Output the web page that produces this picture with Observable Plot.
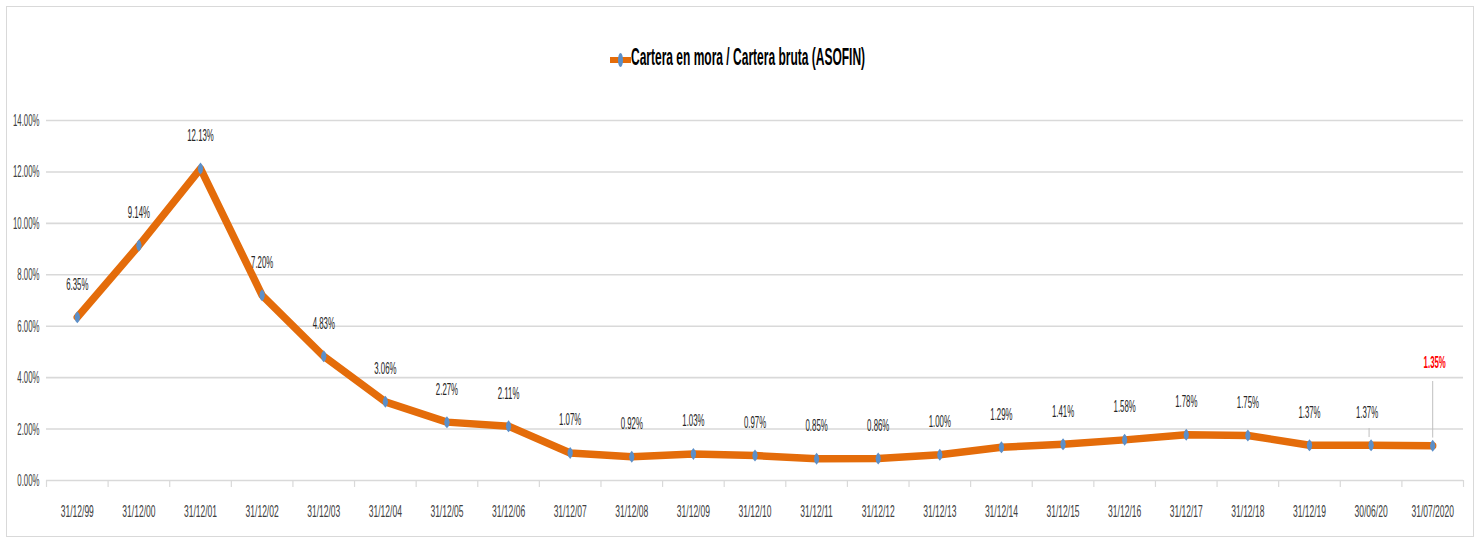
<!DOCTYPE html>
<html>
<head>
<meta charset="utf-8">
<script src="https://cdn.jsdelivr.net/npm/d3@7"></script>
<script src="https://cdn.jsdelivr.net/npm/@observablehq/plot@0.6"></script>
<style>
  html, body { margin: 0; padding: 0; background: #fff; }
  #wrap { position: relative; width: 1483px; height: 543px; overflow: hidden; background: #fff; }
  #frame { position: absolute; left: 6px; top: 6px; width: 1468px; height: 531px; border: 1.5px solid #d9d9d9; box-sizing: border-box; }
  #legend { position: absolute; left: 0; top: 0; width: 1483px; height: 95px; }
  #legend .sym { position: absolute; left: 610px; top: 50px; width: 21px; height: 20px; }
  #legend .sym .ln { position: absolute; left: 0; top: 7px; width: 21px; height: 6px; background: #E46C0A; }
  #legend .sym .mk { position: absolute; left: 7.5px; top: 3px; width: 5px; height: 14px; border-radius: 50%; background: #5B8FC9; }
  #legend .txt { position: absolute; left: 631px; top: 43px; white-space: nowrap; transform-origin: 0 0; transform: scaleX(0.5);
                 font-family: "Liberation Sans", Arial, sans-serif; font-weight: bold; font-size: 24px; color: #000; }
  #chart { position: absolute; left: 0; top: 95px; }
</style>
</head>
<body>
<div id="wrap">
  <div id="frame"></div>
  <div id="legend"><div class="sym"><div class="ln"></div><div class="mk"></div></div><span class="txt" id="title"></span></div>
  <div id="chart"></div>
</div>
<script>
const categories = ["31/12/99","31/12/00","31/12/01","31/12/02","31/12/03","31/12/04","31/12/05","31/12/06","31/12/07","31/12/08","31/12/09","31/12/10","31/12/11","31/12/12","31/12/13","31/12/14","31/12/15","31/12/16","31/12/17","31/12/18","31/12/19","30/06/20","31/07/2020"];
const values = [6.35, 9.14, 12.13, 7.20, 4.83, 3.06, 2.27, 2.11, 1.07, 0.92, 1.03, 0.97, 0.85, 0.86, 1.00, 1.29, 1.41, 1.58, 1.78, 1.75, 1.37, 1.37, 1.35];
const yTicks = [0, 2, 4, 6, 8, 10, 12, 14];
const seriesName = "Cartera en mora / Cartera bruta (ASOFIN)";

document.getElementById("title").textContent = seriesName;

const data = categories.map((c, i) => ({cat: c, v: values[i], i}));
const lastIdx = data.length - 1;

const W = 1483, H = 448;
const mL = 46, mR = 20, mT = 25, mB = 63;
const bw = (W - mL - mR) / categories.length;
const font = "'Liberation Sans', Arial, sans-serif";

const diamond = {
  draw(ctx, size) {
    const w = 2.7, h = 6;
    ctx.moveTo(0, -h);
    ctx.quadraticCurveTo(w, -h * 0.6, w, 0);
    ctx.quadraticCurveTo(w, h * 0.6, 0, h);
    ctx.quadraticCurveTo(-w, h * 0.6, -w, 0);
    ctx.quadraticCurveTo(-w, -h * 0.6, 0, -h);
    ctx.closePath();
  }
};

const fmt = d => d.v.toFixed(2) + "%";

const chart = Plot.plot({
  width: W, height: H,
  marginLeft: mL, marginRight: mR, marginTop: mT, marginBottom: mB,
  style: {fontFamily: font, fontSize: "17px", color: "#404040", background: "transparent"},
  x: {type: "band", domain: categories, padding: 0, round: false, label: null},
  y: {domain: [0, 14], label: null},
  marks: [
    Plot.ruleY(yTicks, {stroke: "#d9d9d9", strokeWidth: 1.6}),
    Plot.ruleX(data, {x: "cat", dx: -bw / 2, y1: 0, y2: -0.27, stroke: "#d9d9d9", strokeWidth: 1.2}),
    Plot.ruleX([data[lastIdx]], {x: "cat", dx: bw / 2, y1: 0, y2: -0.27, stroke: "#d9d9d9", strokeWidth: 1.2}),
    Plot.axisY({ticks: yTicks, tickFormat: d => d.toFixed(2) + "%", tickSize: 0, tickPadding: 7, fontSize: 17, fill: "#404040", className: "yax"}),
    Plot.axisX({tickSize: 0, tickPadding: 24, fontSize: 17, fill: "#404040", className: "xax"}),
    Plot.ruleX([data[lastIdx]], {x: "cat", y1: d => d.v + 0.3, y2: d => d.v + 2.5, stroke: "#bfbfbf", strokeWidth: 1}),
    Plot.ruleX([data[lastIdx - 1]], {x: "cat", dx: -2, y1: d => d.v + 0.3, y2: d => d.v + 0.65, stroke: "#bfbfbf", strokeWidth: 1}),
    Plot.line(data, {x: "cat", y: "v", stroke: "#E46C0A", strokeWidth: 7.5, strokeLinejoin: "round"}),
    Plot.dot(data, {x: "cat", y: "v", symbol: diamond, r: 4, fill: "#5B8FC9", stroke: "none"}),
    Plot.text(data.filter(d => d.i < lastIdx - 1), {x: "cat", y: "v", text: fmt, dy: -33, fontSize: 17, fill: "#262626", className: "lbl"}),
    Plot.text([data[lastIdx - 1]], {x: "cat", y: "v", text: fmt, dy: -33, dx: -4, fontSize: 17, fill: "#262626", className: "lbl"}),
    Plot.text([data[lastIdx]], {x: "cat", y: "v", text: fmt, dy: -83, dx: 2, fontSize: 17, fontWeight: "bold", fill: "#FF0000", className: "lbl"})
  ]
});
document.getElementById("chart").appendChild(chart);

// Condense chart texts horizontally (the reference uses a tall, narrow typeface)
const squeeze = {yax: 0.46, xax: 0.5, lbl: 0.46};
Object.entries(squeeze).forEach(([cls, k]) => {
  chart.querySelectorAll("." + cls + " text, text." + cls).forEach(t => {
    const len = t.getComputedTextLength();
    if (len > 0) {
      t.setAttribute("textLength", (len * k).toFixed(1));
      t.setAttribute("lengthAdjust", "spacingAndGlyphs");
    }
  });
});
</script>
</body>
</html>
